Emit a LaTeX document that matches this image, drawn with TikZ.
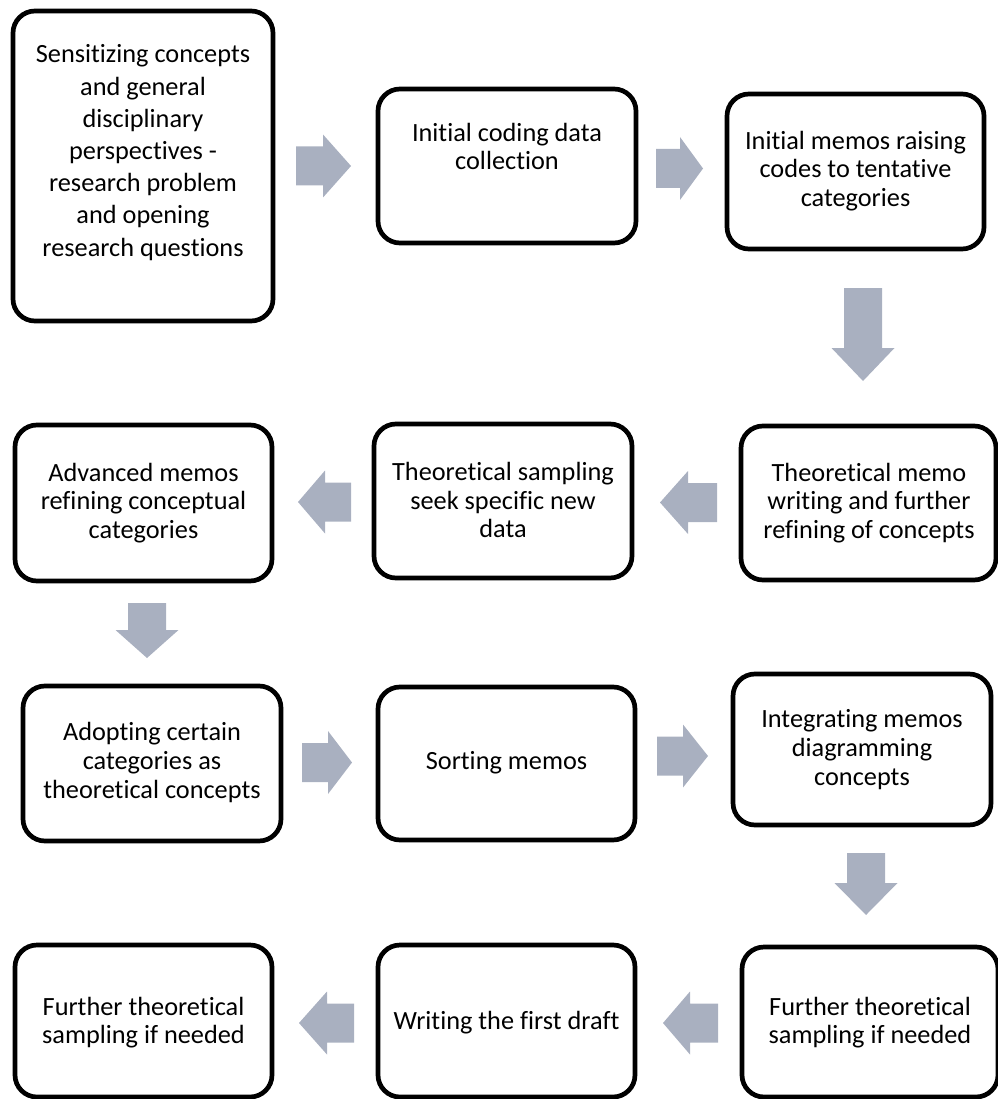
\documentclass[tikz,border=0pt]{standalone}
\usepackage{fontspec}
\setmainfont{Carlito}[Ligatures={NoCommon,NoContextual,NoRequired},Contextuals=NoAlternate]
\definecolor{arrowgray}{RGB}{169,176,192}
\newcommand{\hblockarrow}[4]{% tail x, center y, head base x, tip x
  \fill[arrowgray] (#1,#2-19.5) -- (#3,#2-19.5) -- (#3,#2-31.5) -- (#4,#2)
    -- (#3,#2+31.5) -- (#3,#2+19.5) -- (#1,#2+19.5) -- cycle;}
\newcommand{\vblockarrow}[4]{% center x, tail y, head base y, tip y
  \fill[arrowgray] (#1-19,#2) -- (#1-19,#3) -- (#1-31.5,#3) -- (#1,#4)
    -- (#1+31.5,#3) -- (#1+19,#3) -- (#1+19,#2) -- cycle;}
\tikzset{
  box/.style={draw=black, line width=4.7pt, rounded corners=22pt, inner sep=0pt, outer sep=0pt},
  txt/.style={align=center, inner sep=0pt, font=\fontsize{26.3}{28.7}\selectfont},
  txtwide/.style={align=center, inner sep=0pt, font=\fontsize{26.3}{32.2}\selectfont}
}
\begin{document}
\begin{tikzpicture}[x=1pt,y=-1pt]
\useasboundingbox (0,0) rectangle (997,1099);
% boxes
\node[box, minimum width=260pt, minimum height=310pt] (b1) at (143,166) {};
\node[box, minimum width=258pt, minimum height=154pt] (b2) at (507,166) {};
\node[box, minimum width=257pt, minimum height=155pt] (b3) at (855.5,171.5) {};
\node[box, minimum width=255pt, minimum height=154pt] (b4) at (868.5,503) {};
\node[box, minimum width=258pt, minimum height=154pt] (b5) at (503,501) {};
\node[box, minimum width=257pt, minimum height=156pt] (b6) at (143.5,503) {};
\node[box, minimum width=258pt, minimum height=155pt] (b7) at (152,763.5) {};
\node[box, minimum width=257pt, minimum height=153pt] (b8) at (506.5,763.5) {};
\node[box, minimum width=258pt, minimum height=151pt] (b9) at (862,749.5) {};
\node[box, minimum width=256pt, minimum height=150pt] (b10) at (870,1022) {};
\node[box, minimum width=257pt, minimum height=152pt] (b11) at (506.5,1021) {};
\node[box, minimum width=257pt, minimum height=152pt] (b12) at (143.5,1021) {};
% texts
\node[txtwide] (t1) at (143,152.5) {Sensitizing concepts\\and general\\disciplinary\\perspectives -\\research problem\\and opening\\research questions};
\node[txt] (t2) at (507,146.5) {Initial coding data\\collection};
\node[txt] (t3) at (855.5,171) {Initial memos raising\\codes to tentative\\categories};
\node[txt] (t4) at (869,503) {Theoretical memo\\writing and further\\refining of concepts};
\node[txt] (t5) at (503,500) {Theoretical sampling\\seek specific new\\data};
\node[txt] (t6) at (143.5,503) {Advanced memos\\refining conceptual\\categories};
\node[txt] (t7) at (152,762.5) {Adopting certain\\categories as\\theoretical concepts};
\node[txt] (t8) at (506.5,763) {Sorting memos};
\node[txt] (t9) at (862,749.5) {Integrating memos\\diagramming\\concepts};
\node[txt] (t10) at (870,1022.5) {Further theoretical\\sampling if needed};
\node[txt] (t11) at (506.5,1023) {Writing the first draft};
\node[txt] (t12) at (143.5,1022.5) {Further theoretical\\sampling if needed};
% block arrows
\hblockarrow{296}{166}{323}{351}
\hblockarrow{656}{168.5}{680}{703}
\vblockarrow{863}{288}{348}{381}
\hblockarrow{717}{502.5}{688}{660}
\hblockarrow{351}{502}{325}{298}
\vblockarrow{147}{603}{630}{658}
\hblockarrow{302}{762.5}{328}{352}
\hblockarrow{657}{756}{683}{708}
\vblockarrow{866}{853}{883}{915}
\hblockarrow{718}{1023}{690}{663}
\hblockarrow{354}{1023}{327}{299}
\end{tikzpicture}
\end{document}
